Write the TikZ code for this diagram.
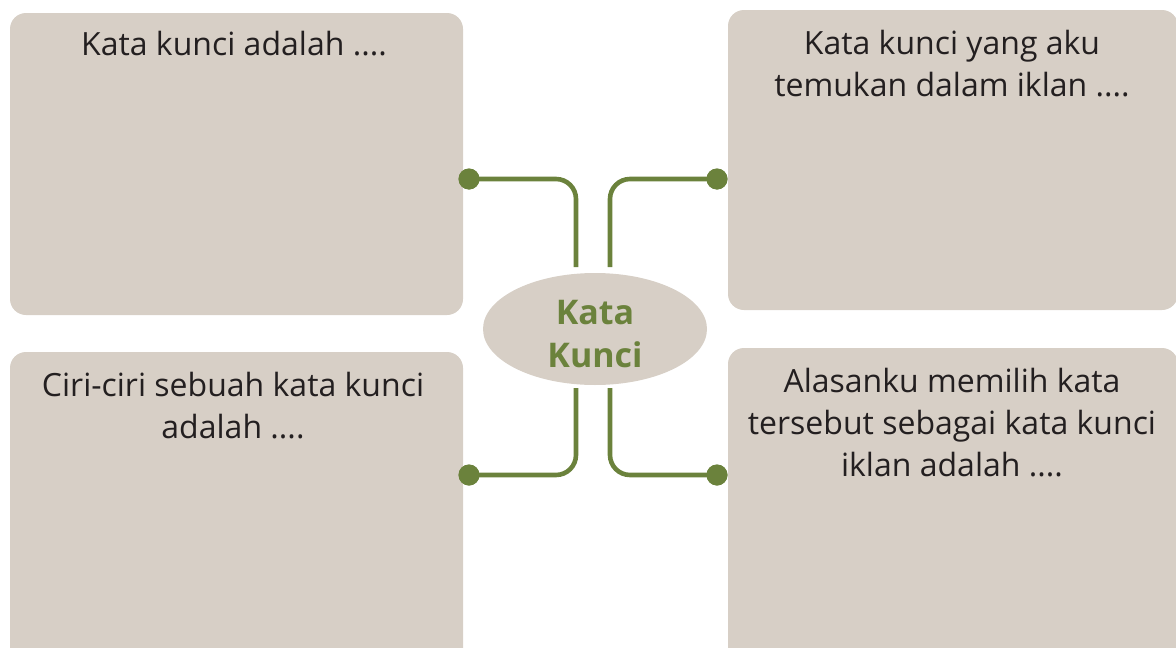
\documentclass[tikz,border=0pt]{standalone}
\usepackage{fontspec}
\setmainfont{Open Sans}
\usetikzlibrary{shapes.geometric}
\definecolor{boxfill}{HTML}{D7CFC6}
\definecolor{leaf}{HTML}{6B823C}
\definecolor{ink}{HTML}{231F20}
\begin{document}
\begin{tikzpicture}[x=1pt,y=-1pt,
  card/.style={fill=boxfill, draw=none, rounded corners=16pt, inner sep=0pt},
  cardtext/.style={text=ink, font=\fontsize{32}{42}\selectfont, align=center, anchor=north, inner sep=0pt},
  dot/.style={circle, fill=leaf, minimum size=21pt, inner sep=0pt},
  conn/.style={draw=leaf, line width=4.6pt, rounded corners=20pt},
  hub/.style={ellipse, fill=boxfill, minimum width=224pt, minimum height=112pt, inner sep=0pt},
  hubtext/.style={text=leaf, font=\bfseries\fontsize{34}{43}\selectfont, align=center, inner sep=0pt}]
\useasboundingbox (0,0) rectangle (1176,648);
\clip (0,0) rectangle (1176,648);
% cards
\node[card, minimum width=453pt, minimum height=302pt] (tl) at (236.5,164) {};
\node[card, minimum width=450pt, minimum height=300pt] (tr) at (953,160) {};
\node[card, minimum width=453pt, minimum height=320pt] (bl) at (236.5,512) {};
\node[card, minimum width=450pt, minimum height=320pt] (br) at (953,508) {};
% texts
\node[cardtext] (tlt) at (234,31) {Kata kunci adalah ....};
\node[cardtext] (trt) at (952,30) {Kata kunci yang aku\\temukan dalam iklan ....};
\node[cardtext] (blt) at (233,372) {Ciri-ciri sebuah kata kunci\\adalah ....};
\node[cardtext] (brt) at (952,368) {Alasanku memilih kata\\tersebut sebagai kata kunci\\iklan adalah ....};
% hub
\node[hub] (hub) at (595,329) {};
\node[hubtext] (hubt) at (595,334) {Kata\\Kunci};
% dots
\node[dot] (d1) at (469,179) {};
\node[dot] (d2) at (717,179) {};
\node[dot] (d3) at (469,475) {};
\node[dot] (d4) at (717,475) {};
% connector ends near hub
\coordinate (e1) at (576,267);
\coordinate (e2) at (610,267);
\coordinate (e3) at (576,388);
\coordinate (e4) at (610,388);
\draw[conn] (d1.center) -| (e1);
\draw[conn] (d2.center) -| (e2);
\draw[conn] (d3.center) -| (e3);
\draw[conn] (d4.center) -| (e4);
\node[dot] at (d1) {};
\node[dot] at (d2) {};
\node[dot] at (d3) {};
\node[dot] at (d4) {};
\end{tikzpicture}
\end{document}
